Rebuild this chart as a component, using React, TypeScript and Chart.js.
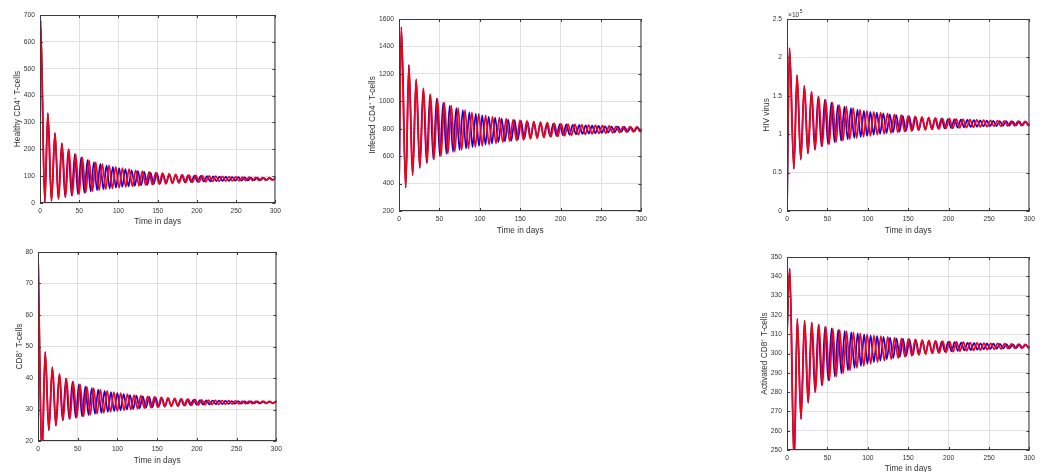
import React, { useEffect, useRef } from "react";
import { Chart, registerables } from "chart.js";

Chart.register(...registerables);

// ---------------- data ----------------
const xTicks = [0, 50, 100, 150, 200, 250, 300];

// times (days) of successive extrema (peak, trough, peak, ...) for the blue run
const blueExtremaT = [
  2.9, 8.3, 12.2, 16.8, 21.2, 25.6, 30.0, 34.2, 38.4, 42.5, 46.6, 50.6, 54.7, 58.7, 62.8, 66.8,
  70.9, 74.9, 79.0, 83.0, 87.0, 91.0, 95.0, 99.0, 103.0, 107.0, 111.0, 115.0, 119.0, 123.0,
  127.0, 131.0, 135.0, 139.0, 143.0, 147.0, 151.0, 155.0, 159.0, 163.0, 167.0, 171.0, 175.0,
  179.0, 183.0, 187.0, 191.0, 195.0, 199.0, 203.0, 207.0, 211.0, 215.0, 219.0, 223.0, 227.0,
  231.0, 235.0, 239.0, 243.0, 247.0, 251.0, 255.0, 259.0, 263.0, 267.0, 271.0, 275.0, 279.0,
  283.0, 287.0, 291.0, 295.0, 299.0, 303.0, 307.0,
];

// times (days) of successive extrema for the red run (slightly longer period)
const redExtremaT = [
  2.9, 8.3, 12.3, 16.9, 21.4, 25.9, 30.4, 34.8, 39.1, 43.4, 47.7, 52.0, 56.2, 60.5, 64.7, 69.0,
  73.2, 77.5, 81.7, 86.0, 90.2, 94.5, 98.7, 103.0, 107.2, 111.5, 115.7, 120.0, 124.2, 128.5,
  132.7, 137.0, 141.2, 145.5, 149.7, 154.0, 158.2, 162.5, 166.7, 171.0, 175.2, 179.5, 183.7,
  188.0, 192.2, 196.5, 200.7, 205.0, 209.2, 213.5, 217.7, 222.0, 226.2, 230.5, 234.7, 239.0,
  243.2, 247.5, 251.7, 256.0, 260.2, 264.5, 268.7, 273.0, 277.2, 281.5, 285.7, 290.0, 294.2,
  298.5, 302.7, 307.0, 311.2, 315.5, 319.7, 324.0,
];

// extremum values (peak, trough, peak, trough, ...)
const healthyExtrema = [
  680, 3, 335, 8, 260, 15, 222, 22, 200, 28, 182, 33, 170, 38, 160, 43, 152, 47, 146, 51,
  140, 54, 135, 57, 130, 60, 126, 62, 122, 64, 119, 66, 116, 68, 113, 70, 111, 71.5, 109, 73,
  107, 74.5, 105, 76, 104, 77, 103, 78, 102, 79, 101, 80, 100, 80.5, 99, 81, 98, 82, 97, 82.5,
  96.5, 83, 96, 83.5, 95.5, 84, 95, 84.5, 94.5, 85, 94, 85.5, 93.5, 86, 93, 86.5,
];
const infectedExtrema = [
  1540, 370, 1265, 460, 1160, 515, 1095, 550, 1050, 578, 1020, 600, 990, 618, 968, 632,
  950, 645, 935, 656, 920, 666, 908, 675, 898, 684, 889, 692, 881, 700, 874, 707, 867, 713,
  862, 719, 857, 725, 852, 730, 848, 735, 844, 740, 840, 744, 837, 748, 834, 752, 831, 756,
  828, 759, 826, 762, 824, 765, 822, 768, 820, 770, 818, 772, 816, 774, 815, 776, 813, 778,
  812, 780, 811, 782, 810, 783,
];
// HIV virus in units of 10^5
const virusExtrema = [
  2.12, 0.55, 1.77, 0.67, 1.63, 0.75, 1.55, 0.8, 1.49, 0.84, 1.45, 0.87, 1.41, 0.895, 1.38, 0.915,
  1.36, 0.935, 1.34, 0.95, 1.32, 0.965, 1.305, 0.978, 1.29, 0.995, 1.28, 1.005, 1.27, 1.015,
  1.26, 1.025, 1.25, 1.033, 1.24, 1.041, 1.233, 1.048, 1.226, 1.055, 1.22, 1.061, 1.214, 1.067,
  1.208, 1.072, 1.203, 1.077, 1.198, 1.082, 1.194, 1.086, 1.19, 1.09, 1.186, 1.094, 1.183, 1.097,
  1.18, 1.1, 1.177, 1.103, 1.174, 1.106, 1.172, 1.109, 1.17, 1.111, 1.168, 1.113, 1.166, 1.115,
  1.164, 1.117, 1.163, 1.118,
];
const cd8Extrema = [
  80, 16, 48.2, 23.4, 43.5, 24.9, 41.2, 26.6, 39.8, 27.0, 38.8, 27.4, 38.0, 27.8, 37.3, 28.2,
  36.8, 28.6, 36.3, 28.9, 35.9, 29.2, 35.5, 29.5, 35.2, 29.75, 34.9, 30.0, 34.6, 30.2, 34.4, 30.4,
  34.2, 30.55, 34.0, 30.7, 33.85, 30.85, 33.7, 31.0, 33.55, 31.1, 33.42, 31.2, 33.3, 31.3,
  33.2, 31.4, 33.1, 31.48, 33.0, 31.55, 32.92, 31.62, 32.85, 31.68, 32.8, 31.73, 32.75, 31.78,
  32.7, 31.82, 32.66, 31.86, 32.62, 31.9, 32.6, 31.93, 32.57, 31.96, 32.55, 31.98, 32.53, 32.0,
  32.51, 32.02,
];
const activatedExtrema = [
  344, 243, 318, 266, 317, 274.5, 316, 280, 315, 283.5, 314, 286, 313, 288, 312.3, 289.7,
  311.6, 291.2, 311, 292.5, 310.4, 293.6, 309.9, 294.6, 309.4, 295.5, 309, 296.3, 308.6, 297,
  308.2, 297.6, 307.9, 298.2, 307.6, 298.7, 307.3, 299.2, 307, 299.6, 306.8, 300, 306.6, 300.3,
  306.4, 300.6, 306.2, 300.9, 306, 301.2, 305.85, 301.4, 305.7, 301.6, 305.55, 301.8, 305.4, 302,
  305.3, 302.15, 305.2, 302.3, 305.1, 302.45, 305, 302.6, 304.9, 302.7, 304.8, 302.8, 304.7, 302.9,
  304.6, 303, 304.5, 303.1,
];

// value at t = 0 for each variable
const healthyStart = 500;
const infectedStart = 340;
const virusStart = 0;
const cd8Start = 80;
const activatedStart = 310;

// phase shift (days) of each variable relative to the extremum times above
const healthyLag = -2.2;
const infectedLag = 0;
const virusLag = 0.2;
const cd8Lag = -3.2;
const activatedLag = 0.5;

const healthyTicks = [0, 100, 200, 300, 400, 500, 600, 700];
const infectedTicks = [200, 400, 600, 800, 1000, 1200, 1400, 1600];
const virusTicks = [0, 0.5, 1, 1.5, 2, 2.5];
const cd8Ticks = [20, 30, 40, 50, 60, 70, 80];
const activatedTicks = [250, 260, 270, 280, 290, 300, 310, 320, 330, 340, 350];

// ---------------- styling / layout ----------------
const FONT = "'Liberation Sans', Arial, Helvetica, sans-serif";
const TICK_SIZE = 6.7;
const TITLE_SIZE = 8.3;
const TEXT_COLOR = "#333333";
const PAD_T = 10;
const PAD_R = 8;

type Rect = { L: number; T: number; R: number; B: number; yl: number; xl: number };
type PanelCfg = {
  id: string;
  label: string;
  values: number[];
  start: number;
  lag: number;
  yTicks: number[];
  exponent?: string;
  rect: Rect;
};

const panels: PanelCfg[] = [
  { id: "healthy", label: "Healthy CD4\u207A T-cells", values: healthyExtrema, start: healthyStart, lag: healthyLag, yTicks: healthyTicks, rect: { L: 40, T: 15, R: 277, B: 203, yl: 18, xl: 222 } },
  { id: "infected", label: "Infected CD4\u207A T-cells", values: infectedExtrema, start: infectedStart, lag: infectedLag, yTicks: infectedTicks, rect: { L: 399, T: 19, R: 643, B: 211, yl: 373, xl: 231 } },
  { id: "virus", label: "HIV virus", values: virusExtrema, start: virusStart, lag: virusLag, yTicks: virusTicks, exponent: "5", rect: { L: 787, T: 19, R: 1031, B: 211, yl: 767, xl: 231 } },
  { id: "cd8", label: "CD8\u207A T-cells", values: cd8Extrema, start: cd8Start, lag: cd8Lag, yTicks: cd8Ticks, rect: { L: 38, T: 252, R: 278, B: 441, yl: 20, xl: 461 } },
  { id: "activated", label: "Activated CD8\u207A T-cells", values: activatedExtrema, start: activatedStart, lag: activatedLag, yTicks: activatedTicks, rect: { L: 787, T: 257, R: 1031, B: 450, yl: 765, xl: 469 } },
];

function buildSeries(times: number[], values: number[], start: number, lag: number) {
  const pts: { x: number; y: number }[] = [{ x: 0, y: start }];
  const n = Math.min(times.length, values.length);
  for (let i = 0; i < n; i++) {
    const x = times[i] + lag;
    if (x > 0) pts.push({ x, y: values[i] });
  }
  return pts;
}

function geometry(r: Rect) {
  const half = Math.round((TITLE_SIZE * 1.2) / 2);
  const left = r.yl - half;
  const yw = r.L - left;
  const xh = r.xl - r.B + half;
  const top = r.T - PAD_T;
  const width = r.R - r.L + yw + PAD_R;
  const height = r.B - r.T + PAD_T + xh;
  return { left, top, width, height, yw, xh };
}

const boxPlugin = {
  id: "matlabBox",
  afterDatasetsDraw(chart: any, _args: any, opts: any) {
    const { ctx, chartArea } = chart;
    const { left, top, right, bottom } = chartArea;
    ctx.save();
    ctx.strokeStyle = "#3a3a3a";
    ctx.lineWidth = 1;
    ctx.strokeRect(left + 0.5, top + 0.5, right - left - 1, bottom - top - 1);
    const tl = 3;
    ctx.beginPath();
    const xs = chart.scales.x;
    xs.ticks.forEach((t: any) => {
      const px = Math.round(xs.getPixelForValue(t.value)) + 0.5;
      ctx.moveTo(px, bottom);
      ctx.lineTo(px, bottom - tl);
      ctx.moveTo(px, top);
      ctx.lineTo(px, top + tl);
    });
    const ys = chart.scales.y;
    ys.ticks.forEach((t: any) => {
      const py = Math.round(ys.getPixelForValue(t.value)) + 0.5;
      ctx.moveTo(left, py);
      ctx.lineTo(left + tl, py);
      ctx.moveTo(right, py);
      ctx.lineTo(right - tl, py);
    });
    ctx.stroke();
    if (opts && opts.exponent) {
      ctx.fillStyle = TEXT_COLOR;
      ctx.textAlign = "left";
      ctx.textBaseline = "alphabetic";
      ctx.font = `${TICK_SIZE}px ${FONT}`;
      const base = "\u00D710";
      ctx.fillText(base, left + 1, top - 2.5);
      const w = ctx.measureText(base).width;
      ctx.font = `${TICK_SIZE * 0.75}px ${FONT}`;
      ctx.fillText(opts.exponent, left + 1 + w + 0.5, top - 6);
    }
    ctx.restore();
  },
};

function PanelChart({ cfg }: { cfg: PanelCfg }) {
  const ref = useRef<HTMLCanvasElement>(null);
  const g = geometry(cfg.rect);
  useEffect(() => {
    if (!ref.current) return;
    const blue = buildSeries(blueExtremaT, cfg.values, cfg.start, cfg.lag);
    const red = buildSeries(redExtremaT, cfg.values, cfg.start, cfg.lag);
    const yMin = cfg.yTicks[0];
    const yMax = cfg.yTicks[cfg.yTicks.length - 1];
    const lineDs = (data: any, color: string) => ({
      data,
      borderColor: color,
      backgroundColor: color,
      borderWidth: 1.7,
      pointRadius: 0,
      fill: false,
      cubicInterpolationMode: "monotone",
    });
    const tickFont = { family: FONT, size: TICK_SIZE };
    const titleFont = { family: FONT, size: TITLE_SIZE, lineHeight: 1.2 };
    const chart = new Chart(ref.current, {
      type: "line",
      data: { datasets: [lineDs(red, "#ff0000"), lineDs(blue, "#0000ff")] as any },
      plugins: [boxPlugin],
      options: {
        animation: false,
        responsive: false,
        events: [],
        layout: { padding: { top: PAD_T, right: PAD_R, left: 0, bottom: 0 } },
        plugins: {
          legend: { display: false },
          tooltip: { enabled: false },
          title: { display: false },
          matlabBox: { exponent: cfg.exponent },
        } as any,
        scales: {
          x: {
            type: "linear",
            min: 0,
            max: 300,
            afterBuildTicks: (s: any) => {
              s.ticks = xTicks.map((v) => ({ value: v }));
            },
            afterFit: (s: any) => {
              s.height = g.xh;
            },
            grid: { color: "#e0e0e0", lineWidth: 1, drawTicks: false },
            border: { display: false },
            ticks: {
              font: tickFont,
              color: TEXT_COLOR,
              padding: 4,
              autoSkip: false,
              maxRotation: 0,
              callback: (v: any) => String(v),
            },
            title: { display: true, text: "Time in days", font: titleFont, color: TEXT_COLOR, padding: 0 },
          },
          y: {
            type: "linear",
            min: yMin,
            max: yMax,
            afterBuildTicks: (s: any) => {
              s.ticks = cfg.yTicks.map((v) => ({ value: v }));
            },
            afterFit: (s: any) => {
              s.width = g.yw;
            },
            grid: { color: "#e0e0e0", lineWidth: 1, drawTicks: false },
            border: { display: false },
            ticks: {
              font: tickFont,
              color: TEXT_COLOR,
              padding: 5,
              autoSkip: false,
              callback: (v: any) => String(v),
            },
            title: { display: true, text: cfg.label, font: titleFont, color: TEXT_COLOR, padding: 0 },
          },
        },
      } as any,
    });
    return () => chart.destroy();
  }, []);
  return (
    <canvas
      ref={ref}
      width={g.width}
      height={g.height}
      style={{ position: "absolute", left: g.left, top: g.top, width: g.width, height: g.height }}
    />
  );
}

export default function App() {
  return (
    <div
      style={{
        position: "fixed",
        left: 0,
        top: 0,
        width: 1044,
        height: 472,
        overflow: "hidden",
        background: "#ffffff",
      }}
    >
      {panels.map((p) => (
        <PanelChart key={p.id} cfg={p} />
      ))}
    </div>
  );
}
